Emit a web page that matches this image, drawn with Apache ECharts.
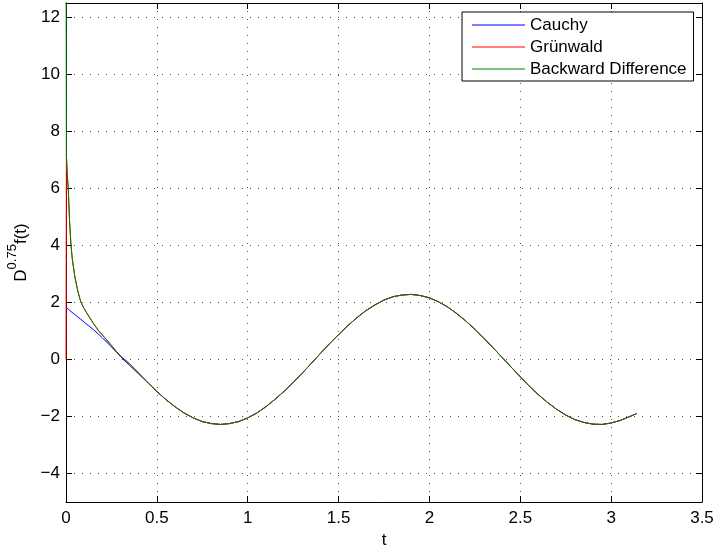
<!DOCTYPE html>
<html>
<head>
<meta charset="utf-8">
<script src="https://cdn.jsdelivr.net/npm/echarts@6/dist/echarts.min.js"></script>
<style>
html,body{margin:0;padding:0;background:#fff;}
#c{width:717px;height:548px;}
</style>
</head>
<body>
<div id="c"></div>
<script>
// Sample times t
var tValues = [0, 0.002, 0.006, 0.013, 0.02, 0.0275, 0.035, 0.049, 0.065, 0.081, 0.1, 0.125, 0.15, 0.178, 0.2, 0.25, 0.278, 0.3, 0.333, 0.35, 0.4, 0.45, 0.5,
  0.55, 0.6, 0.65, 0.7, 0.75, 0.8, 0.85, 0.9, 0.95, 1.0, 1.05, 1.1, 1.15, 1.2, 1.25, 1.3, 1.35, 1.4, 1.45, 1.5,
  1.55, 1.6, 1.65, 1.7, 1.75, 1.8, 1.85, 1.9, 1.95, 2.0, 2.05, 2.1, 2.15, 2.2, 2.25, 2.3, 2.35, 2.4, 2.45, 2.5,
  2.55, 2.6, 2.65, 2.7, 2.75, 2.8, 2.85, 2.9, 2.95, 3.0, 3.05, 3.1, 3.14];

// Main (shared) part of the curve from t = 0.55 onward
var tailValues = [-1.41, -1.66, -1.88, -2.05, -2.18, -2.25, -2.28, -2.25, -2.18, -2.05, -1.88, -1.66, -1.40, -1.12, -0.81, -0.48, -0.14, 0.21, 0.55, 0.87,
  1.18, 1.46, 1.71, 1.91, 2.08, 2.20, 2.26, 2.28, 2.24, 2.16, 2.02, 1.84, 1.61, 1.35, 1.06, 0.74, 0.41, 0.07, -0.27, -0.61,
  -0.94, -1.24, -1.51, -1.75, -1.95, -2.11, -2.21, -2.27, -2.28, -2.23, -2.14, -2.01, -1.90];

var cauchyHead = [1.82, 1.81, 1.79, 1.76, 1.72, 1.68, 1.64, 1.57, 1.49, 1.41, 1.31, 1.18, 1.05, 0.89, 0.76, 0.44, 0.25, 0.10, -0.11, -0.21, -0.51, -0.82, -1.13];
var grunwaldHead = [0, 7.2, 6.6, 5.9, 4.8, 4.0, 3.5, 2.89, 2.4, 2.02, 1.78, 1.52, 1.27, 1.02, 0.86, 0.49, 0.27, 0.12, -0.06, -0.15, -0.48, -0.81, -1.12];
var backwardHead = [16, 7.2, 6.6, 5.9, 4.8, 4.0, 3.5, 2.89, 2.4, 2.02, 1.78, 1.52, 1.27, 1.02, 0.86, 0.49, 0.27, 0.12, -0.06, -0.15, -0.48, -0.81, -1.12];

var cauchyValues = cauchyHead.concat(tailValues);
var grunwaldValues = grunwaldHead.concat(tailValues);
var backwardValues = backwardHead.concat(tailValues);

var seriesNames = ['Cauchy', 'Grünwald', 'Backward Difference'];
var seriesColors = ['#0000ff', '#ff0000', '#008000'];

function pairs(vals) {
  return tValues.map(function (t, i) { return [t, vals[i]]; });
}

var FONT = 'Liberation Sans, Arial, Helvetica, sans-serif';
var chart = echarts.init(document.getElementById('c'), null, { width: 717, height: 548 });
var gridStyle = { show: true, lineStyle: { color: '#555', width: 1, type: [1, 7] } };
var minusFmt = function (v) { return String(v).replace('-', '\u2212'); };

chart.setOption({
  animation: false,
  backgroundColor: '#fff',
  textStyle: { fontFamily: FONT },
  grid: { left: 66, right: 15, top: 3, bottom: 46, containLabel: false, outerBoundsMode: 'none' },
  legend: {
    orient: 'vertical',
    left: 462, top: 12,
    padding: [3, 7, 2, 10],
    icon: 'rect',
    itemWidth: 53, itemHeight: 1, itemGap: 2,
    borderColor: '#000', borderWidth: 1, backgroundColor: '#fff',
    textStyle: { fontSize: 17, color: '#000', fontFamily: FONT, lineHeight: 20 },
    data: seriesNames
  },
  xAxis: [{
    type: 'value', min: 0, max: 3.5, interval: 0.5,
    name: 't', nameLocation: 'middle', nameGap: 28,
    nameTextStyle: { fontSize: 17, color: '#000', fontFamily: FONT },
    axisLine: { show: true, onZero: false, lineStyle: { color: '#000', width: 1 } },
    axisTick: { show: true, inside: true, length: 6, lineStyle: { color: '#000' } },
    axisLabel: { fontSize: 17, color: '#000', fontFamily: FONT, margin: 8, formatter: minusFmt },
    splitLine: gridStyle
  }, {
    type: 'value', min: 0, max: 3.5, interval: 0.5, position: 'top',
    axisLine: { show: true, onZero: false, lineStyle: { color: '#000', width: 1 } },
    axisTick: { show: true, inside: true, length: 6, lineStyle: { color: '#000' } },
    axisLabel: { show: false }, splitLine: { show: false }
  }],
  yAxis: [{
    type: 'value', min: -5, max: 12.5, splitNumber: 9,
    name: '{b|D}{s|0.75}{b|f(t)}', nameLocation: 'middle', nameGap: 26,
    nameTextStyle: {
      color: '#000', fontFamily: FONT,
      rich: {
        b: { fontSize: 17, color: '#000', fontFamily: FONT, verticalAlign: 'bottom', lineHeight: 24 },
        s: { fontSize: 13, color: '#000', fontFamily: FONT, verticalAlign: 'top', lineHeight: 24 }
      }
    },
    axisLine: { show: true, onZero: false, lineStyle: { color: '#000', width: 1 } },
    axisTick: { show: true, inside: true, length: 6, lineStyle: { color: '#000' } },
    axisLabel: { fontSize: 17, color: '#000', fontFamily: FONT, margin: 6, showMinLabel: false, showMaxLabel: false, formatter: minusFmt },
    splitLine: gridStyle
  }, {
    type: 'value', min: -5, max: 12.5, splitNumber: 9, position: 'right',
    axisLine: { show: true, onZero: false, lineStyle: { color: '#000', width: 1 } },
    axisTick: { show: true, inside: true, length: 6, lineStyle: { color: '#000' } },
    axisLabel: { show: false }, splitLine: { show: false }
  }],
  series: [cauchyValues, grunwaldValues, backwardValues].map(function (vals, i) {
    return {
      name: seriesNames[i], type: 'line', xAxisIndex: 0, yAxisIndex: 0,
      data: pairs(vals), symbol: 'none', showSymbol: false, smooth: false, clip: true,
      color: seriesColors[i],
      lineStyle: { color: seriesColors[i], width: 1 },
      itemStyle: { color: seriesColors[i] },
      z: 2 + i
    };
  })
});
</script>
</body>
</html>
